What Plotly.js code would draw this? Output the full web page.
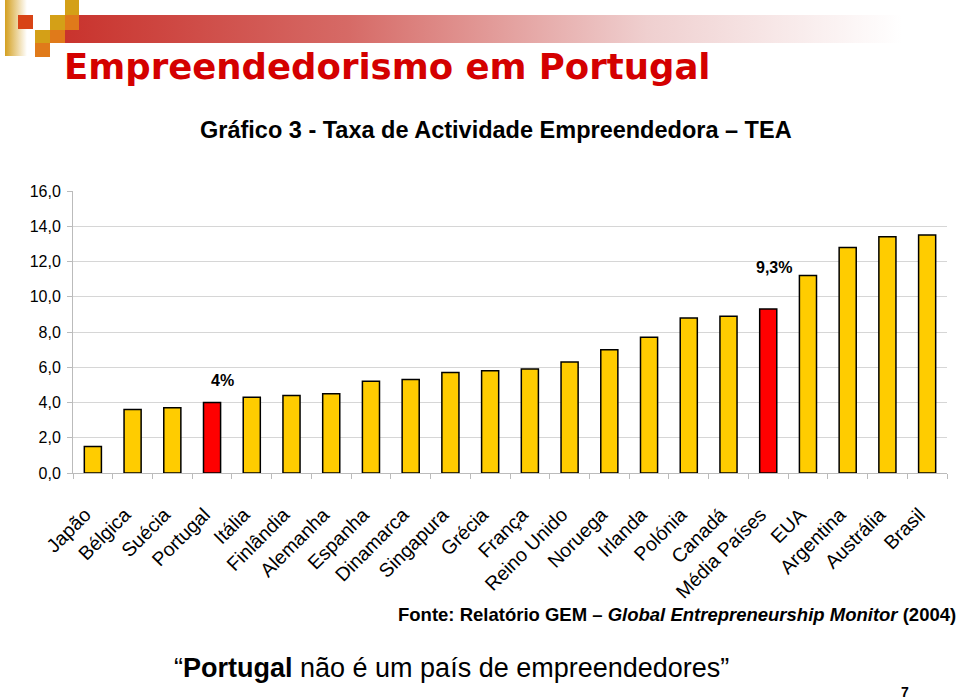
<!DOCTYPE html>
<html>
<head>
<meta charset="utf-8">
<script src="https://cdn.plot.ly/plotly-3.0.1.min.js"></script>
<style>html,body{margin:0;padding:0;background:#fff;}#chart{width:960px;height:700px;}</style>
</head>
<body>
<div id="chart"></div>
<script>
// ---- data ----
var countries = ['Japão','Bélgica','Suécia','Portugal','Itália','Finlândia','Alemanha','Espanha','Dinamarca','Singapura','Grécia','França','Reino Unido','Noruega','Irlanda','Polónia','Canadá','Média Países','EUA','Argentina','Austrália','Brasil'];
var tea = [1.5,3.6,3.7,4.0,4.3,4.4,4.5,5.2,5.3,5.7,5.8,5.9,6.3,7.0,7.7,8.8,8.9,9.3,11.2,12.8,13.4,13.5];
var highlighted = ['Portugal','Média Países'];
var highlightLabels = ['4%','9,3%'];
var yTickValues = [0,2,4,6,8,10,12,14,16];

// ---- styling ----
var gold = '#FFCC00', red = '#FF0000';
var barColors = countries.map(function(c){ return highlighted.indexOf(c) >= 0 ? red : gold; });
var labelShiftY = [22, 42], labelShiftX = [10, 6];
var tickPad = '\u00a0\u00a0';

// plot area in pixels
var W = 960, H = 700, mL = 73, mR = 13, mT = 191, mB = 227;
var pw = W - mL - mR, ph = H - mT - mB;
function px(x){ return (x - mL) / pw; }
function py(y){ return (H - mB - y) / ph; }

// decoration svg (top band)
var deco = '<svg xmlns="http://www.w3.org/2000/svg" width="960" height="60" viewBox="0 0 960 60">' +
  '<defs>' +
  '<linearGradient id="g1" x1="0" y1="0" x2="1" y2="0">' +
  '<stop offset="0" stop-color="#c8302a"/><stop offset="0.35" stop-color="#d66a66"/>' +
  '<stop offset="0.7" stop-color="#efcfcf"/><stop offset="1" stop-color="#ffffff"/></linearGradient>' +
  '<linearGradient id="g2" x1="0" y1="0" x2="1" y2="0">' +
  '<stop offset="0" stop-color="#d4a020"/><stop offset="1" stop-color="#ffffff"/></linearGradient>' +
  '</defs>' +
  '<rect x="50" y="15" width="852" height="28" fill="url(#g1)"/>' +
  '<rect x="5" y="0" width="22" height="56" fill="url(#g2)"/>' +
  '<rect x="18" y="15" width="15" height="14" fill="#d84315"/>' +
  '<rect x="65" y="0" width="14" height="15" fill="#d4a017"/>' +
  '<rect x="50" y="15" width="15" height="15" fill="#d4a017"/>' +
  '<rect x="65" y="15" width="14" height="15" fill="#e07a1a"/>' +
  '<rect x="35" y="30" width="15" height="13" fill="#d4a017"/>' +
  '<rect x="50" y="30" width="15" height="13" fill="#e07a1a"/>' +
  '<rect x="35" y="43" width="15" height="14" fill="#e07a1a"/>' +
  '</svg>';

var trace = {
  type: 'bar',
  x: countries,
  y: tea,
  marker: { color: barColors, line: { color: '#000000', width: 1.5 } },
  hoverinfo: 'x+y'
};

var annotations = highlighted.map(function(c, i){
  var idx = countries.indexOf(c);
  return {
    xref: 'x', yref: 'y', x: c, y: tea[idx], yshift: labelShiftY[i], xshift: labelShiftX[i],
    text: '<b>' + highlightLabels[i] + '</b>', showarrow: false, yanchor: 'middle',
    font: { family: 'Liberation Sans, Arial, sans-serif', size: 16, color: '#000' }
  };
});

annotations.push({
  xref: 'paper', yref: 'paper', x: px(62), y: py(66),
  text: 'Empreendedorismo em Portugal', showarrow: false,
  xanchor: 'left', yanchor: 'middle',
  font: { family: 'DejaVu Sans, sans-serif', size: 35.5, color: '#D40000', weight: 'bold' }
});
annotations.push({
  xref: 'paper', yref: 'paper', x: px(496), y: py(130),
  text: '<b>Gráfico 3 - Taxa de Actividade Empreendedora – TEA</b>', showarrow: false,
  xanchor: 'center', yanchor: 'middle',
  font: { family: 'Liberation Sans Narrow, Liberation Sans, Arial, sans-serif', size: 23.5, color: '#000' }
});
annotations.push({
  xref: 'paper', yref: 'paper', x: px(958), y: py(614),
  text: '<b>Fonte: Relatório GEM – <i>Global Entrepreneurship Monitor</i> (2004)</b>', showarrow: false,
  xanchor: 'right', yanchor: 'middle',
  font: { family: 'Liberation Sans Narrow, Liberation Sans, Arial, sans-serif', size: 18.5, color: '#000' }
});
annotations.push({
  xref: 'paper', yref: 'paper', x: px(451), y: py(668),
  text: '“<b>Portugal</b> não é um país de empreendedores”', showarrow: false,
  xanchor: 'center', yanchor: 'middle',
  font: { family: 'Liberation Sans Narrow, Liberation Sans, Arial, sans-serif', size: 27, color: '#000' }
});
annotations.push({
  xref: 'paper', yref: 'paper', x: px(905), y: py(692),
  text: '<b>7</b>', showarrow: false, xanchor: 'center', yanchor: 'middle',
  font: { family: 'Liberation Sans, Arial, sans-serif', size: 14, color: '#000' }
});

var layout = {
  width: W, height: H,
  margin: { l: mL, r: mR, t: mT, b: mB, pad: 0 },
  paper_bgcolor: '#ffffff', plot_bgcolor: '#ffffff',
  separators: ',.',
  showlegend: false,
  bargap: 0.57,
  xaxis: {
    type: 'category',
    tickmode: 'array',
    tickvals: countries,
    ticktext: countries.map(function(c){ return c + tickPad; }),
    tickangle: -45,
    tickfont: { family: 'Liberation Sans, Arial, sans-serif', size: 19.5, color: '#000' },
    ticks: 'outside', tickson: 'boundaries', ticklen: 5, tickcolor: '#bbbbbb',
    showline: true, linecolor: '#bbbbbb', linewidth: 1,
    showgrid: false, zeroline: false,
    ticklabelstandoff: 14,
    fixedrange: true
  },
  yaxis: {
    range: [0, 16],
    tickvals: yTickValues,
    tickformat: '.1f',
    tickfont: { family: 'Liberation Sans, Arial, sans-serif', size: 16, color: '#000' },
    ticks: 'outside', ticklen: 5, tickcolor: '#bbbbbb',
    showline: true, linecolor: '#bbbbbb', linewidth: 1,
    showgrid: true, gridcolor: '#d6d6d6', gridwidth: 1,
    zeroline: false,
    ticklabelstandoff: 3,
    fixedrange: true
  },
  annotations: annotations,
  images: [{
    source: 'data:image/svg+xml;charset=utf-8,' + encodeURIComponent(deco),
    xref: 'paper', yref: 'paper',
    x: px(0), y: py(0),
    sizex: W / pw, sizey: 60 / ph,
    xanchor: 'left', yanchor: 'top',
    sizing: 'stretch', layer: 'below'
  }]
};

Plotly.newPlot('chart', [trace], layout, { displayModeBar: false, staticPlot: true });
</script>
</body>
</html>
